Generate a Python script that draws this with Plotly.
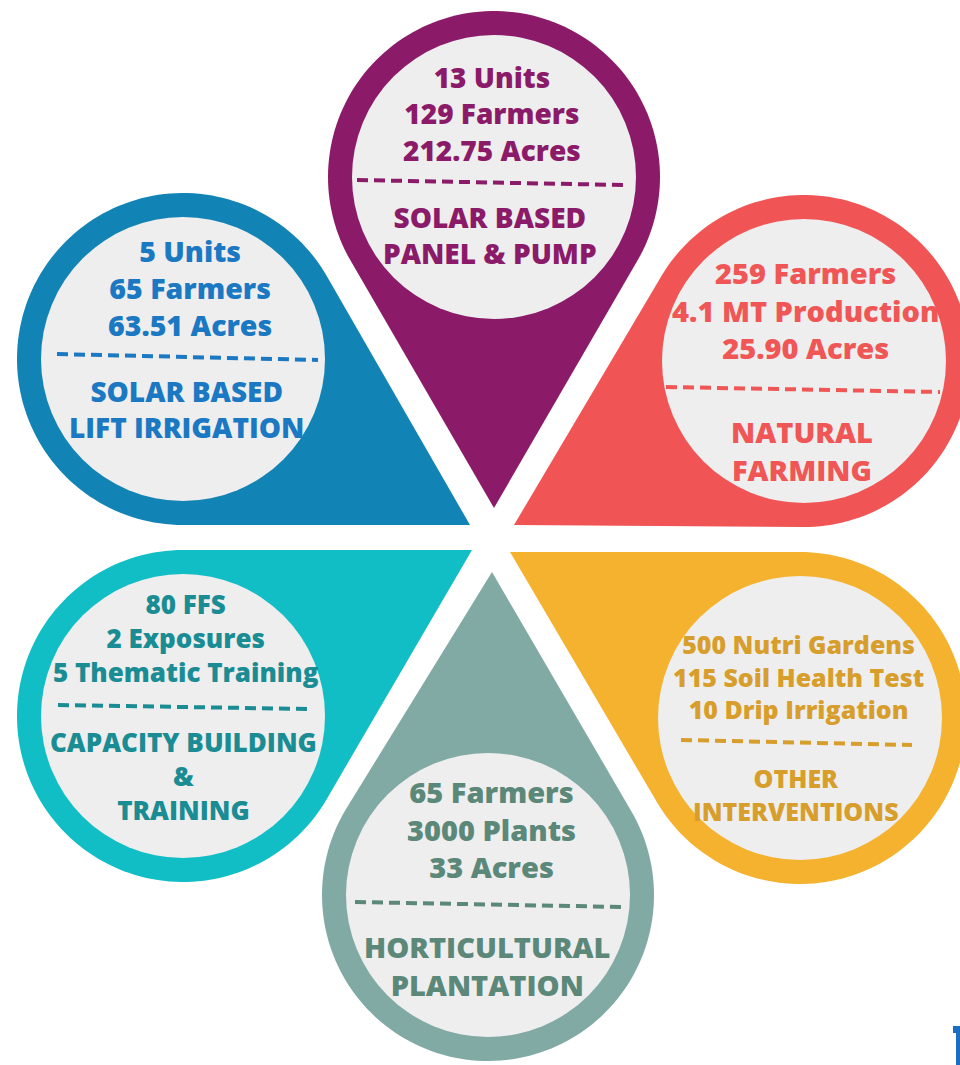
import numpy as np
import plotly.graph_objects as go

W, H = 960, 1065

# ---- content (text values read from the infographic) ----
stats_solar_pump = ["13 Units", "129 Farmers", "212.75 Acres"]
title_solar_pump = ["SOLAR BASED", "PANEL & PUMP"]
stats_natural = ["259 Farmers", "4.1 MT Production", "25.90 Acres"]
title_natural = ["NATURAL", "FARMING"]
stats_other = ["500 Nutri Gardens", "115 Soil Health Test", "10 Drip Irrigation"]
title_other = ["OTHER", "INTERVENTIONS"]
stats_horti = ["65 Farmers", "3000 Plants", "33 Acres"]
title_horti = ["HORTICULTURAL", "PLANTATION"]
stats_capacity = ["80 FFS", "2 Exposures", "5 Thematic Training"]
title_capacity = ["CAPACITY BUILDING", "&", "TRAINING"]
stats_lift = ["5 Units", "65 Farmers", "63.51 Acres"]
title_lift = ["SOLAR BASED", "LIFT IRRIGATION"]

# ---- layout / style per petal ----
petals = [
    dict(stats=stats_solar_pump, title=title_solar_pump, c=(494, 177), t=(494, 508),
         fill="#8B1A68", ink="#8B1A68", sx=492, tx=490, stat_y=113, title_y=234.5,
         dash=((357, 180), (623, 185)), ssize=28, tsize=28),
    dict(stats=stats_natural, title=title_natural, c=(804, 361), t=(514, 525),
         fill="#F05454", ink="#F05656", sx=805, tx=802, stat_y=309.7, title_y=450,
         dash=((666, 387), (940, 392)), ssize=29, tsize=29),
    dict(stats=stats_other, title=title_other, c=(800, 718), t=(510, 552),
         fill="#F5B22F", ink="#D89E2C", sx=798, tx=796, stat_y=676.7, title_y=794,
         dash=((681, 740), (912, 745)), ssize=25, tsize=25),
    dict(stats=stats_horti, title=title_horti, c=(488, 895), t=(492, 572),
         fill="#82AAA5", ink="#5B8878", sx=491, tx=487, stat_y=829, title_y=965,
         dash=((355, 902), (623, 907)), ssize=29, tsize=29),
    dict(stats=stats_capacity, title=title_capacity, c=(183, 716), t=(472, 550),
         fill="#12BEC5", ink="#1A8C93", sx=186, tx=183, stat_y=638.3, title_y=776.3,
         dash=((58, 705), (310, 709)), ssize=26, tsize=26),
    dict(stats=stats_lift, title=title_lift, c=(183, 359), t=(470, 525),
         fill="#1283B5", ink="#1B78C2", sx=190, tx=186, stat_y=288.3, title_y=409,
         dash=((57, 354), (318, 360)), ssize=28.5, tsize=28),
]

R_OUT, R_IN = 166, 142
FONT = "Open Sans"


def pin_path(c, t, r, n=120):
    cx, cy = c
    tx_, ty_ = t
    d = np.hypot(tx_ - cx, ty_ - cy)
    phi = np.arctan2(ty_ - cy, tx_ - cx)
    a = np.arccos(r / d)
    ang = np.linspace(phi + a, phi + 2 * np.pi - a, n)
    xs = cx + r * np.cos(ang)
    ys = cy + r * np.sin(ang)
    pts = [f"M{tx_},{ty_}"] + [f"L{x:.2f},{y:.2f}" for x, y in zip(xs, ys)] + ["Z"]
    return " ".join(pts)


shapes = []
annotations = []
for p in petals:
    shapes.append(dict(type="path", xref="x", yref="y", path=pin_path(p["c"], p["t"], R_OUT),
                       fillcolor=p["fill"], line=dict(width=0), layer="below"))
    cx, cy = p["c"]
    shapes.append(dict(type="circle", xref="x", yref="y", x0=cx - R_IN, x1=cx + R_IN,
                       y0=cy - R_IN, y1=cy + R_IN, fillcolor="#EEEEEE", line=dict(width=0),
                       layer="below"))
    (x0, y0), (x1, y1) = p["dash"]
    shapes.append(dict(type="line", xref="x", yref="y", x0=x0, y0=y0, x1=x1, y1=y1,
                       line=dict(color=p["ink"], width=4, dash="11px,6px")))
    annotations.append(dict(x=p["sx"], y=p["stat_y"], xref="x", yref="y",
                            text="<br>".join(p["stats"]), showarrow=False, align="center",
                            xanchor="center", yanchor="middle",
                            font=dict(family=FONT, size=p["ssize"], color=p["ink"], weight=800)))
    annotations.append(dict(x=p["tx"], y=p["title_y"], xref="x", yref="y",
                            text="<br>".join(p["title"]), showarrow=False, align="center",
                            xanchor="center", yanchor="middle",
                            font=dict(family=FONT, size=p["tsize"], color=p["ink"], weight=800)))

# cropped blue logo fragment at the bottom-right edge (decoration)
shapes.append(dict(type="path", xref="x", yref="y",
                   path="M953,1026 L962,1026 L962,1066 L956,1066 L956,1033 L953,1033 Z",
                   fillcolor="#1A6FC4", line=dict(width=0)))

fig = go.Figure()
fig.update_layout(
    width=W, height=H, autosize=False,
    margin=dict(l=0, r=0, t=0, b=0),
    paper_bgcolor="white", plot_bgcolor="white",
    xaxis=dict(range=[0, W], visible=False, fixedrange=True),
    yaxis=dict(range=[H, 0], visible=False, fixedrange=True),
    shapes=shapes, annotations=annotations, showlegend=False,
)
fig.write_html("out.html", config=dict(displayModeBar=False),
               post_script="document.body.style.margin='0px';document.body.style.overflow='hidden';")
